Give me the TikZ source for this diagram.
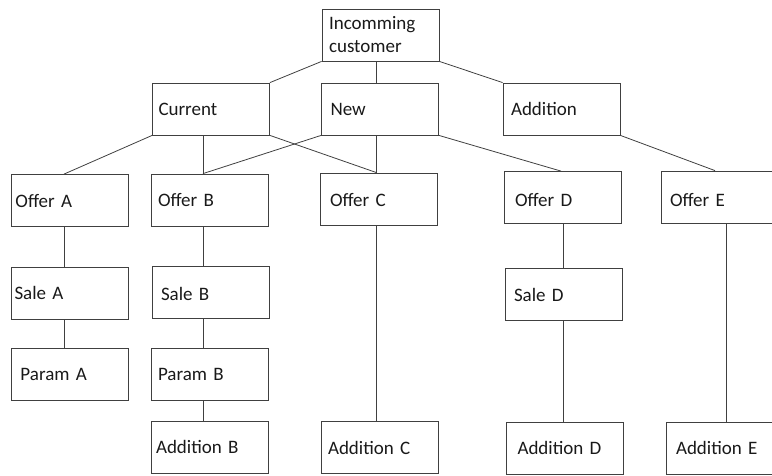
\documentclass[tikz,border=0pt]{standalone}
\usepackage{fontspec}
\setmainfont{Carlito}
\usepackage{tikz}
\usetikzlibrary{positioning}

\begin{document}
\begin{tikzpicture}[x=1pt,y=-1pt,
    box/.style={draw=black!75,line width=0.8pt,minimum height=52pt,inner xsep=0pt,inner ysep=0pt,text width=117pt,align=left,font=\fontsize{19}{23}\selectfont,text=black!90},
    pad/.style={execute at begin node={\hspace*{#1pt}}},
    drop/.style={text height=#1pt,text depth=0pt},
    link/.style={draw=black!75,line width=0.8pt}]
  \useasboundingbox (0,0) rectangle (772,475);
  \clip (0,0) rectangle (772,475);

  \node[box,pad=7](inc) at (380.5,35) {Incomming\\\hspace*{7pt}customer};

  \node[box,pad=6](cur) at (211,109) {Current};
  \node[box,pad=9](new) at (380,109) {New};
  \node[box,pad=8](add) at (561.5,109) {Addition};

  \node[box,pad=4](offA) at (70,200.5) {Offer A};
  \node[box,pad=7](offB) at (209.5,200) {Offer B};
  \node[box,pad=10,drop=15.4](offC) at (378.5,199) {Offer C};
  \node[box,pad=11,drop=18.4](offD) at (562.5,197.5) {Offer D};
  \node[box,pad=9,drop=19.4](offE) at (719.5,197) {Offer E};

  \node[box,pad=3](saleA) at (70,293) {Sale A};
  \node[box,pad=9,drop=16](saleB) at (210.5,292) {Sale B};
  \node[box,pad=9](saleD) at (563.5,294.5) {Sale D};

  \node[box,pad=9](parA) at (70,374) {Param A};
  \node[box,pad=7](parB) at (209.5,374) {Param B};

  \node[box,pad=5](addB) at (209.5,447) {Addition B};
  \node[box,pad=7](addC) at (379.5,447.5) {Addition C};
  \node[box,pad=11](addD) at (565,448) {Addition D};
  \node[box,pad=10](addE) at (724.5,448) {Addition E};

  % columns of the vertical links
  \coordinate (colA) at (64,0);
  \coordinate (colB) at (203,0);
  \coordinate (colC) at (376.5,0);
  \coordinate (colD) at (563,0);
  \coordinate (colE) at (726,0);

  \draw[link] (inc.south west) -- (cur.north east);
  \draw[link] (inc.south -| colC) -- (new.north -| colC);
  \draw[link] (inc.south east) -- (add.north west);

  \draw[link] (cur.south west) -- (offA.north -| colA);
  \draw[link] (cur.south -| colB) -- (offB.north -| colB);
  \draw[link] (cur.south east) -- (offC.north -| colC);
  \draw[link] (new.south west) -- (offB.north -| colB);
  \draw[link] (new.south -| colC) -- (offC.north -| colC);
  \draw[link] (new.south east) -- ([xshift=-2pt]offD.north -| colD);
  \draw[link] (add.south east) -- ([xshift=-4.5pt]offE.north);

  \draw[link] (offA.south -| colA) -- (saleA.north -| colA);
  \draw[link] (saleA.south -| colA) -- (parA.north -| colA);
  \draw[link] (offB.south -| colB) -- (saleB.north -| colB);
  \draw[link] (saleB.south -| colB) -- (parB.north -| colB);
  \draw[link] (parB.south -| colB) -- (addB.north -| colB);
  \draw[link] (offC.south -| colC) -- (addC.north -| colC);
  \draw[link] (offD.south -| colD) -- (saleD.north -| colD);
  \draw[link] (saleD.south -| colD) -- (addD.north -| colD);
  \draw[link] (offE.south -| colE) -- (addE.north -| colE);
\end{tikzpicture}
\end{document}
